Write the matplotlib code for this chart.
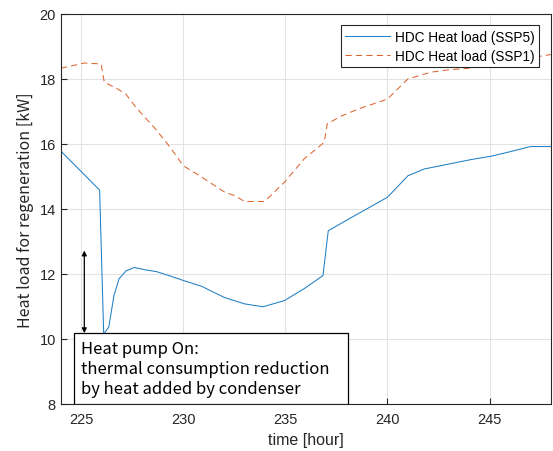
import matplotlib
matplotlib.use('Agg')
import matplotlib.pyplot as plt
from matplotlib.patches import Rectangle
import numpy as np

# HDC heat load, SSP5 case (heat pump switches on around hour 226)
t_ssp5 = [224.0, 225.9, 226.1, 226.35, 226.6, 226.85, 227.2, 227.6, 228.2, 228.7, 229.2,
          230.0, 230.9, 232.0, 233.0, 233.9, 234.95, 235.9, 236.84, 237.1, 238.1, 240.0,
          241.0, 241.8, 243.0, 244.1, 245.06, 246.0, 247.0, 248.0]
q_ssp5 = [15.78, 14.58, 10.15, 10.37, 11.33, 11.85, 12.1, 12.2, 12.12, 12.07, 11.97,
          11.8, 11.62, 11.28, 11.08, 10.99, 11.18, 11.54, 11.95, 13.33, 13.69, 14.36,
          15.02, 15.23, 15.38, 15.52, 15.62, 15.76, 15.92, 15.92]

# HDC heat load, SSP1 case
t_ssp1 = [224.0, 225.16, 225.97, 226.13, 226.78, 227.18, 227.67, 228.64, 229.29, 230.0,
          230.9, 232.04, 232.52, 233.0, 233.98, 234.95, 235.92, 236.9, 237.05, 237.78,
          238.6, 240.0, 241.0, 242.15, 243.0, 244.0, 245.0, 246.0, 247.0, 248.0]
q_ssp1 = [18.33, 18.49, 18.46, 17.9, 17.69, 17.54, 17.13, 16.46, 15.95, 15.33,
          14.98, 14.51, 14.41, 14.23, 14.23, 14.82, 15.54, 16.05, 16.62, 16.87,
          17.08, 17.38, 18.0, 18.21, 18.28, 18.33, 18.4, 18.52, 18.65, 18.75]

# span of the arrow showing the reduction
arrow_t = 225.15
arrow_top = 12.72
arrow_bottom = 10.18

plt.rcParams['font.family'] = ['Liberation Sans', 'DejaVu Sans']
plt.rcParams['axes.linewidth'] = 0.8

fig = plt.figure(figsize=(5.53, 4.52), dpi=100)
ax = fig.add_axes([0.110, 0.104, 0.886, 0.863])

ax.plot(t_ssp5, q_ssp5, color='#1F7FC4', lw=0.75, label='HDC Heat load (SSP5)')
ax.plot(t_ssp1, q_ssp1, color='#DE6530', lw=0.75, ls=(0, (6, 4)), label='HDC Heat load (SSP1)')

ax.set_xlim(224, 248)
ax.set_ylim(8, 20)
ax.set_xticks(np.arange(225, 248, 5))
ax.set_yticks(np.arange(8, 21, 2))
ax.grid(True, color='#E3E3E3', lw=0.8)
ax.set_axisbelow(True)
ax.tick_params(direction='in', length=4, labelsize=10.5, colors='#262626')
ax.tick_params(axis='x', pad=6)
for s in ax.spines.values():
    s.set_color('#262626')

ax.set_xlabel('time [hour]', fontsize=11.5, color='#262626', labelpad=4)
ax.set_ylabel('Heat load for regeneration [kW]', fontsize=11.5, color='#262626',
              family=['Noto Sans CJK KR', 'DejaVu Sans'], labelpad=4)

leg = ax.legend(loc='upper right', fontsize=9.8, fancybox=False, framealpha=1,
                edgecolor='#262626', borderaxespad=0.85, handlelength=3.3,
                handletextpad=0.4, borderpad=0.3, labelspacing=0.4)
leg.get_frame().set_linewidth(0.8)

ax.annotate('', xy=(arrow_t, arrow_bottom), xytext=(arrow_t, arrow_top),
            arrowprops=dict(arrowstyle='<|-|>', color='black', lw=0.9,
                            mutation_scale=7, shrinkA=0, shrinkB=0))

# note box sitting on the bottom axis
ax.add_patch(Rectangle((0.0265, 0.0), 0.5595, 0.182, transform=ax.transAxes,
                       fc='white', ec='black', lw=0.9, zorder=4))
ax.text(0.041, 0.163, 'Heat pump On:\nthermal consumption reduction\nby heat added by condenser',
        transform=ax.transAxes, fontsize=12, family=['Noto Sans CJK KR', 'DejaVu Sans'],
        va='top', ha='left', linespacing=1.22, zorder=5)

fig.savefig('out.png', dpi=100)
